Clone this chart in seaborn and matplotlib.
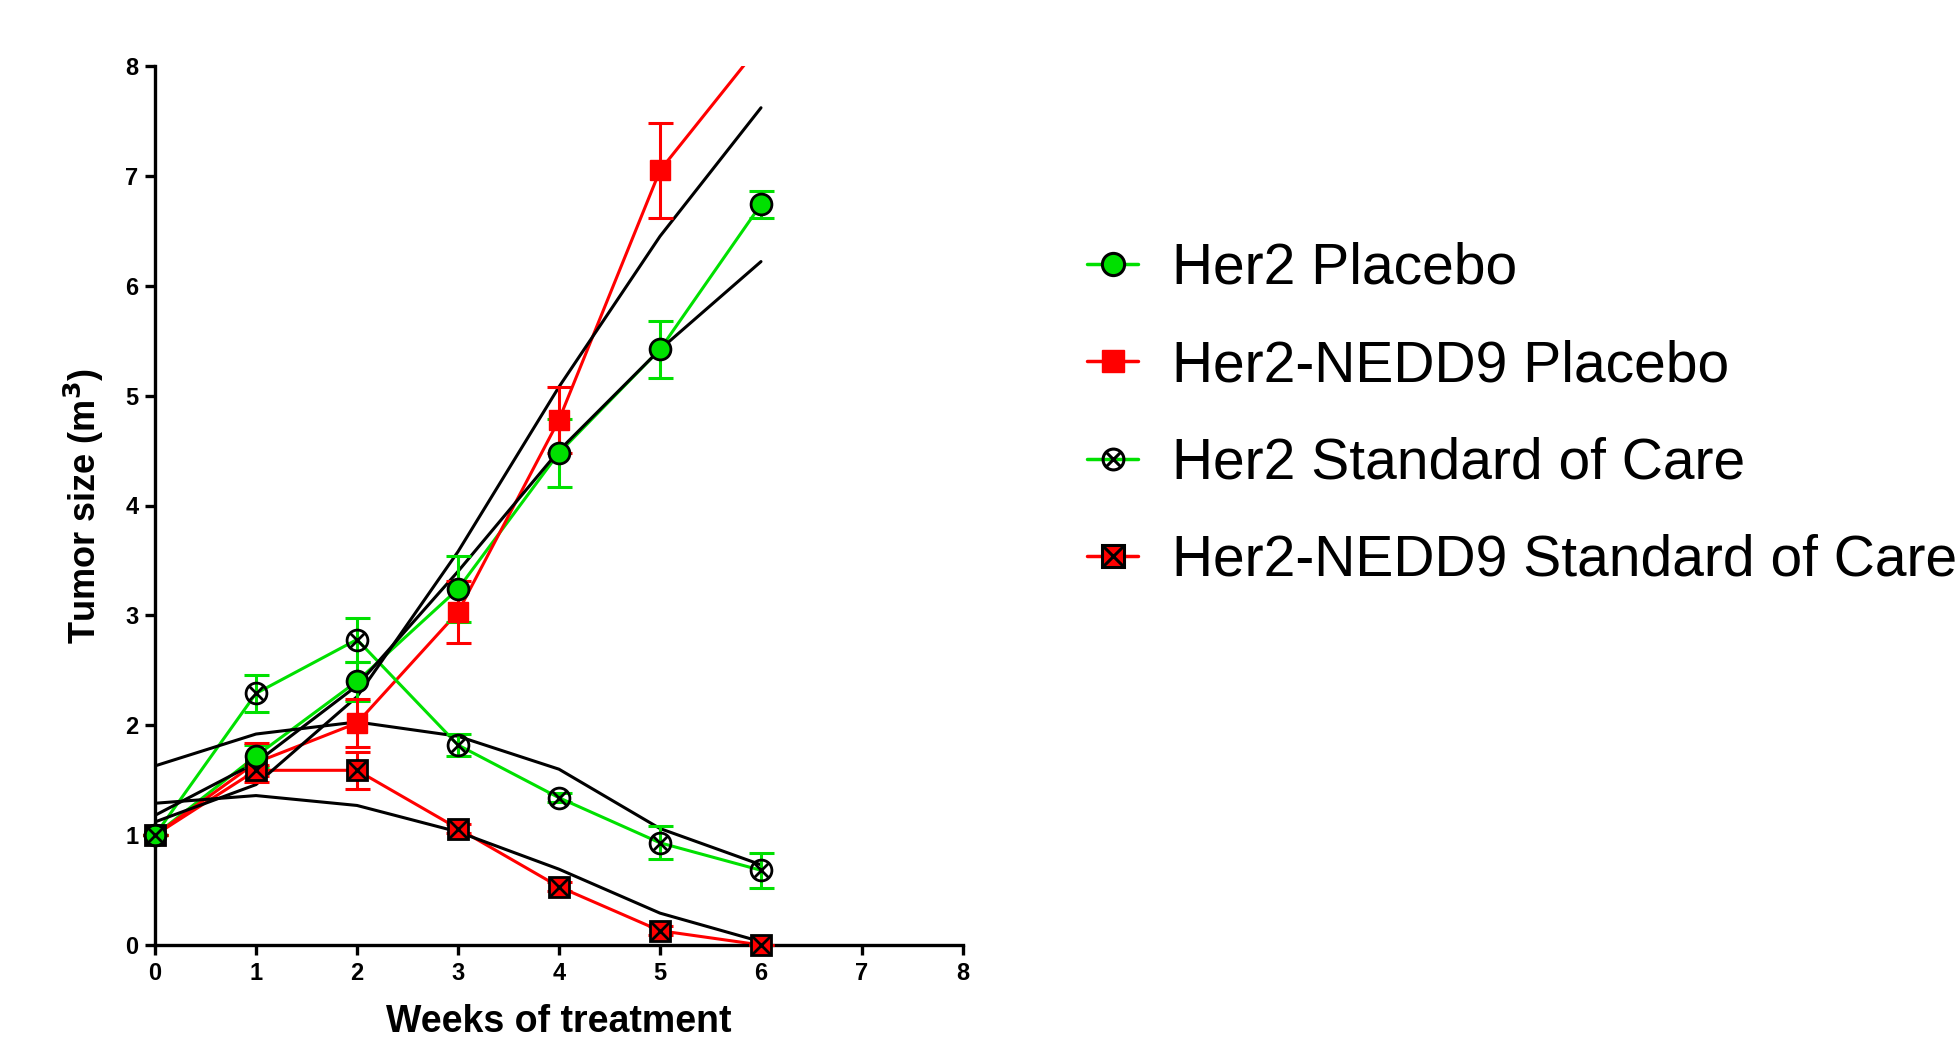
import numpy as np
import pandas as pd
import matplotlib
matplotlib.use('Agg')
import matplotlib.pyplot as plt
from matplotlib.lines import Line2D
from matplotlib.legend_handler import HandlerTuple
import seaborn as sns

sns.set_style('ticks')
plt.rcParams['font.family'] = ['Liberation Sans', 'DejaVu Sans']
plt.rcParams['text.color'] = 'black'
plt.rcParams['axes.labelcolor'] = 'black'
plt.rcParams['axes.edgecolor'] = 'black'
plt.rcParams['xtick.color'] = 'black'
plt.rcParams['ytick.color'] = 'black'

# data
weeks = [0, 1, 2, 3, 4, 5, 6]

her2_placebo = [1.00, 1.72, 2.40, 3.24, 4.48, 5.42, 6.74]
her2_placebo_err = [0.0, 0.10, 0.18, 0.30, 0.31, 0.26, 0.12]

nedd9_placebo = [1.00, 1.66, 2.02, 3.03, 4.78, 7.05, 8.20]
nedd9_placebo_err = [0.0, 0.18, 0.22, 0.28, 0.30, 0.43, 0.0]

her2_soc = [1.00, 2.29, 2.78, 1.82, 1.34, 0.93, 0.68]
her2_soc_err = [0.0, 0.17, 0.20, 0.10, 0.04, 0.15, 0.16]

nedd9_soc = [1.00, 1.59, 1.59, 1.06, 0.53, 0.13, 0.0]
nedd9_soc_err = [0.0, 0.05, 0.17, 0.04, 0.04, 0.04, 0.0]

# fitted curves (black)
fit_her2_placebo = [1.18, 1.66, 2.36, 3.40, 4.50, 5.42, 6.22]
fit_nedd9_placebo = [1.12, 1.46, 2.26, 3.58, 5.08, 6.45, 7.62]
fit_her2_soc = [1.63, 1.92, 2.03, 1.90, 1.60, 1.06, 0.73]
fit_nedd9_soc = [1.29, 1.36, 1.27, 1.03, 0.69, 0.29, 0.03]

labels = ['Her2 Placebo', 'Her2-NEDD9 Placebo',
          'Her2 Standard of Care', 'Her2-NEDD9 Standard of Care']

GREEN = '#00e000'
RED = '#ff0000'

fig = plt.figure(figsize=(19.57, 10.37), dpi=100)
ax = fig.add_axes([155 / 1957, 1 - 945 / 1037, 808 / 1957, 879 / 1037])

series = [
    (her2_placebo, her2_placebo_err, GREEN),
    (nedd9_placebo, nedd9_placebo_err, RED),
    (her2_soc, her2_soc_err, GREEN),
    (nedd9_soc, nedd9_soc_err, RED),
]

# data lines
for y, err, col in series:
    df = pd.DataFrame({'week': weeks, 'size': y})
    sns.lineplot(data=df, x='week', y='size', color=col, linewidth=2.2, ax=ax, zorder=2)

# fitted curves
for fit in [fit_her2_placebo, fit_nedd9_placebo, fit_her2_soc, fit_nedd9_soc]:
    df = pd.DataFrame({'week': weeks, 'size': fit})
    sns.lineplot(data=df, x='week', y='size', color='black', linewidth=2.2, ax=ax, zorder=3)

# error bars
for y, err, col in series:
    y = np.array(y)
    err = np.array(err)
    keep = y <= 8
    ax.errorbar(np.array(weeks)[keep], y[keep], yerr=err[keep], fmt='none', ecolor=col,
                elinewidth=2.2, capsize=9, capthick=2.2, zorder=4, clip_on=False)

# markers
def pts(y):
    y = np.array(y, dtype=float)
    return np.where(y <= 8, y, np.nan)

ax.plot(weeks, pts(her2_placebo), 'o', ms=15, mfc=GREEN, mec='black', mew=2.0,
        zorder=6, clip_on=False)
ax.plot(weeks, pts(nedd9_placebo), 's', ms=14, mfc=RED, mec=RED, mew=1.0,
        zorder=5, clip_on=False)
ax.plot(weeks, pts(her2_soc), 'o', ms=15, mfc='none', mec='black', mew=2.0,
        zorder=6, clip_on=False)
ax.plot(weeks, pts(her2_soc), 'x', ms=10.5, mec='black', mew=2.0, zorder=6, clip_on=False)
ax.plot(weeks, pts(nedd9_soc), 's', ms=15, mfc=RED, mec='black', mew=2.0,
        zorder=5, clip_on=False)
ax.plot(weeks, pts(nedd9_soc), 'x', ms=13, mec='black', mew=2.0, zorder=5, clip_on=False)

ax.set_xlim(0, 8)
ax.set_ylim(0, 8)
ax.set_xticks(range(0, 9))
ax.set_yticks(range(0, 9))
sns.despine(ax=ax)
for s in ['left', 'bottom']:
    ax.spines[s].set_linewidth(2.4)
ax.tick_params(axis='both', length=7, width=2.4, labelsize=17, pad=5)
for t in ax.get_xticklabels() + ax.get_yticklabels():
    t.set_fontweight('bold')

ax.set_xlabel('Weeks of treatment', fontsize=27, fontweight='bold', labelpad=14)
ax.set_ylabel('Tumor size (m$^\\mathbf{3}$)', fontsize=26, fontweight='bold', labelpad=14)

# legend
h1 = Line2D([], [], color=GREEN, lw=2.5, marker='o', ms=16, mfc=GREEN, mec='black', mew=2.2)
h2 = Line2D([], [], color=RED, lw=2.5, marker='s', ms=16, mfc=RED, mec=RED)
h3a = Line2D([], [], color=GREEN, lw=2.5, marker='o', ms=15, mfc='none', mec='black', mew=2.2)
h3b = Line2D([], [], color='none', marker='x', ms=10.5, mec='black', mew=2.2)
h4a = Line2D([], [], color=RED, lw=2.5, marker='s', ms=16, mfc=RED, mec='black', mew=2.2)
h4b = Line2D([], [], color='none', marker='x', ms=14, mec='black', mew=2.2)

fig.legend([h1, h2, (h3a, h3b), (h4a, h4b)], labels,
           handler_map={tuple: HandlerTuple(ndivide=1, pad=0)},
           loc='upper left', bbox_to_anchor=(1087 / 1957, 1 - 242 / 1037),
           frameon=False, fontsize=41, handlelength=0.9, handletextpad=0.6,
           labelspacing=0.76, borderpad=0, borderaxespad=0)

fig.savefig('out.png', dpi=100)
